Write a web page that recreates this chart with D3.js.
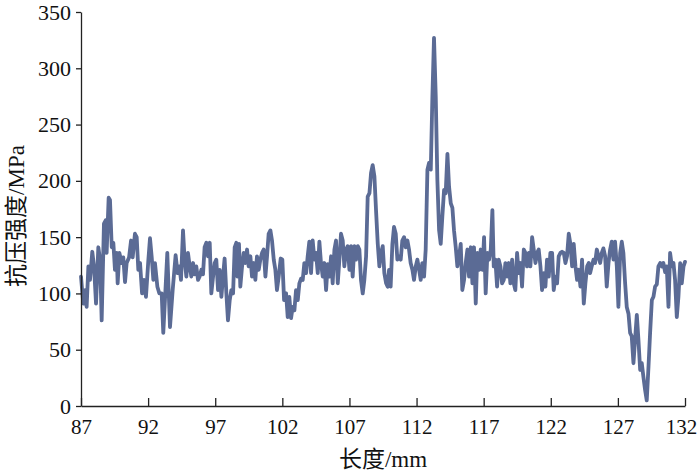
<!DOCTYPE html>
<html>
<head>
<meta charset="utf-8">
<script src="https://cdn.jsdelivr.net/npm/d3@7"></script>
<style>
  body { margin: 0; background: #fff; }
</style>
</head>
<body>
<div id="chart"></div>
<script>
// length along the sample (mm)
var lengthMm = [
  87.00,87.17,87.30,87.42,87.55,87.67,87.84,87.97,88.12,88.29,88.42,88.54,88.71,88.84,88.91,89.06,89.16,89.29,89.41,89.53,
  89.66,89.73,89.86,90.03,90.15,90.28,90.40,90.58,90.73,90.85,91.02,91.15,91.27,91.40,91.55,91.69,91.84,92.02,92.14,92.27,
  92.39,92.51,92.69,92.84,93.01,93.13,93.28,93.43,93.63,93.83,94.05,94.20,94.33,94.45,
  94.60,94.72,94.85,94.97,95.10,95.22,95.35,95.47,95.59,95.72,95.84,95.97,96.09,96.21,96.34,96.46,96.59,96.71,96.84,96.96,
  97.08,97.21,97.33,97.46,97.58,97.70,97.83,97.95,98.08,98.20,98.33,98.45,98.57,98.65,98.77,98.87,99.00,99.12,99.24,99.37,
  99.49,99.62,99.74,99.87,99.99,100.11,100.24,100.36,100.49,100.61,100.74,100.86,100.98,101.11,101.23,101.36,101.48,101.60,101.73,101.88,
  102.00,102.13,
  102.28,102.40,102.52,102.65,102.77,102.90,103.02,103.15,103.27,103.39,103.52,103.64,103.77,103.89,104.01,104.14,104.26,104.39,104.51,104.64,
  104.76,104.88,105.01,105.13,105.26,105.38,105.51,105.63,105.75,105.88,106.00,106.13,106.25,106.37,106.50,106.62,106.75,106.87,107.00,107.12,
  107.24,107.37,107.49,107.62,107.74,107.86,107.99,108.11,108.24,108.36,108.49,108.61,108.73,108.86,108.98,109.11,109.23,109.35,109.48,109.60,
  109.73,109.85,
  109.95,110.07,110.20,110.32,110.45,110.57,110.70,110.82,110.94,111.07,111.19,111.32,111.44,111.56,111.69,111.81,111.94,112.06,112.19,112.31,
  112.43,112.56,112.68,112.81,112.93,113.06,113.18,113.30,113.43,113.55,113.68,113.80,113.92,114.05,114.17,114.30,114.42,114.55,114.67,114.79,
  114.92,115.04,115.17,115.29,115.41,115.54,115.66,115.79,115.91,116.04,116.16,116.28,116.41,116.53,116.66,116.78,116.91,117.03,117.15,117.28,
  117.40,117.53,117.65,
  117.75,117.87,118.00,118.12,118.25,118.37,118.50,118.62,118.74,118.87,118.99,119.12,119.24,119.36,119.49,119.61,119.74,119.86,119.99,120.11,
  120.23,120.36,120.48,120.61,120.73,120.86,120.98,121.10,121.23,121.35,121.48,121.60,121.72,121.85,121.97,122.10,122.22,122.35,122.47,122.59,
  122.72,122.84,122.97,123.09,123.21,123.34,123.46,123.59,123.71,123.84,123.96,124.08,124.21,124.33,124.46,124.58,124.71,124.83,
  124.93,125.05,125.18,125.30,125.43,125.55,125.68,125.80,125.92,126.05,126.17,126.30,126.42,126.54,126.67,126.79,126.92,127.04,127.17,127.29,
  127.41,127.54,127.66,127.79,127.91,128.03,128.16,128.28,128.41,128.53,128.66,128.78,128.90,129.03,129.15,129.28,129.40,129.53,129.65,129.77,
  129.90,130.02,130.15,130.27,130.39,130.52,130.64,130.77,130.89,131.02,131.14,131.26,131.39,131.51,131.64,131.76,131.89,132.00
];

// compressive strength (MPa)
var strengthMPa = [
  115,91,103,88,124,112,137,124,91,141,130,76,162,165,136,185,183,141,145,121,
  136,109,136,127,132,110,127,132,147,132,153,150,121,127,100,112,97,130,149,132,
  112,127,106,100,100,65,100,136,70,103,134,118,124,112,
  156,130,115,136,124,115,127,117,124,112,115,121,117,141,145,133,145,100,115,127,
  130,103,121,97,115,131,100,76,94,103,100,141,145,115,144,106,124,136,127,139,
  124,133,115,127,112,133,121,130,136,139,115,133,153,156,147,130,121,103,115,131,
  130,94,
  100,79,97,78,88,85,103,94,109,113,112,127,118,133,146,118,147,130,136,118,
  146,127,115,127,103,126,115,133,109,139,147,109,130,153,147,124,139,142,121,142,
  115,142,130,142,139,112,100,112,133,186,189,207,214,204,174,144,124,136,142,118,
  109,106,
  121,106,144,159,153,130,133,130,147,150,141,147,139,127,121,112,124,130,121,112,
  127,115,139,210,216,210,275,327,275,201,156,144,168,192,189,224,195,180,176,156,
  141,124,133,144,103,112,127,139,115,141,109,141,91,136,121,139,121,150,100,136,
  130,139,174,
  124,130,106,130,124,109,112,127,115,127,109,130,109,103,136,118,127,106,139,136,
  124,136,124,150,139,127,136,139,124,103,118,106,130,115,136,136,103,115,109,133,
  136,137,136,127,133,153,144,124,144,124,112,121,106,130,91,109,124,127,
  118,124,130,127,139,133,127,136,140,133,106,127,139,146,130,146,124,88,136,146,
  136,109,88,82,65,62,38,59,81,59,32,38,26,14,5,35,65,94,97,106,
  108,124,127,124,127,119,124,88,136,124,127,112,79,97,127,109,124,128
];

var xTicks = [87, 92, 97, 102, 107, 112, 117, 122, 127, 132];
var yTicks = [0, 50, 100, 150, 200, 250, 300, 350];

var W = 700, H = 474;
var margin = {top: 12, right: 15, bottom: 68, left: 81};
var width = W - margin.left - margin.right,
    height = H - margin.top - margin.bottom;

var serif = "'Liberation Serif', 'Times New Roman', 'Noto Sans CJK SC', serif";

var svg = d3.select("#chart")
  .append("svg")
    .attr("width", W)
    .attr("height", H)
  .append("g")
    .attr("transform", "translate(" + margin.left + "," + margin.top + ")");

var x = d3.scaleLinear().domain([87, 132]).range([0, width]);
var y = d3.scaleLinear().domain([0, 350]).range([height, 0]);

// the line
var pts = lengthMm.map(function(d, i) { return [d, strengthMPa[i]]; });
svg.append("path")
  .datum(pts)
  .attr("fill", "none")
  .attr("stroke", "#5b6b95")
  .attr("stroke-width", 3.8)
  .attr("stroke-linejoin", "round")
  .attr("stroke-linecap", "round")
  .attr("d", d3.line()
    .x(function(d) { return x(d[0]); })
    .y(function(d) { return y(d[1]); }));

// x axis, ticks pointing inward
var gx = svg.append("g")
  .attr("transform", "translate(0," + height + ")")
  .call(d3.axisBottom(x).tickValues(xTicks).tickSizeInner(-8).tickSizeOuter(0).tickPadding(13));
gx.select(".domain").attr("stroke", "#222").attr("stroke-width", 1.3);
gx.selectAll(".tick line").attr("stroke", "#222").attr("stroke-width", 1.3);
gx.selectAll("text")
  .style("font-family", serif)
  .style("font-size", "21px")
  .attr("fill", "#111");
// keep the last label inside the page
gx.selectAll(".tick text").filter(function(d) { return d === 132; })
  .attr("dx", "-4");

// y axis, ticks pointing outward
var gy = svg.append("g")
  .call(d3.axisLeft(y).tickValues(yTicks).tickSizeInner(5).tickSizeOuter(0).tickPadding(5));
gy.select(".domain").attr("stroke", "#222").attr("stroke-width", 1.3);
gy.selectAll(".tick line").attr("stroke", "#222").attr("stroke-width", 1.3);
gy.selectAll("text")
  .style("font-family", serif)
  .style("font-size", "22px")
  .attr("fill", "#111");

// axis titles
svg.append("text")
  .attr("x", 383 - margin.left)
  .attr("y", height + 61)
  .attr("text-anchor", "middle")
  .style("font-family", serif)
  .style("font-size", "23px")
  .attr("fill", "#111")
  .text("长度/mm");

svg.append("text")
  .attr("transform", "translate(" + (-57) + "," + (216 - margin.top) + ") rotate(-90)")
  .attr("text-anchor", "middle")
  .style("font-family", serif)
  .style("font-size", "23px")
  .attr("fill", "#111")
  .text("抗压强度/MPa");
</script>
</body>
</html>
